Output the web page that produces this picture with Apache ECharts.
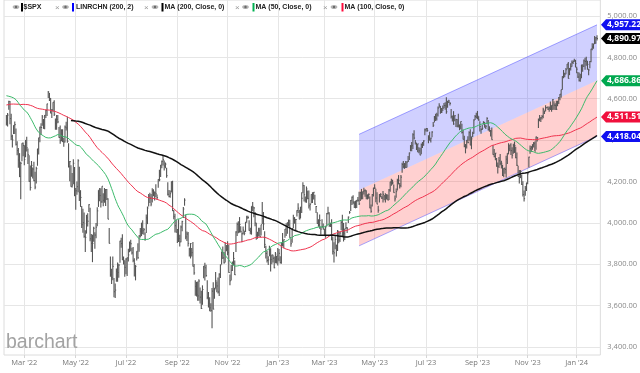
<!DOCTYPE html>
<html><head><meta charset="utf-8">
<script src="https://cdn.jsdelivr.net/npm/echarts@6/dist/echarts.min.js"></script>
<style>html,body{margin:0;padding:0;background:#fff;}#c{width:640px;height:373px;}</style>
</head><body><div id="c"></div>
<script>
// ---- trading calendar ----
const startDate = '2022-02-07';
const endDate = '2024-01-26';
const holidays = ['2022-02-21','2022-04-15','2022-05-30','2022-06-20','2022-07-04','2022-09-05','2022-11-24','2022-12-26',
  '2023-01-02','2023-01-16','2023-02-20','2023-04-07','2023-05-29','2023-06-19','2023-07-04','2023-09-04','2023-11-23','2023-12-25',
  '2024-01-01','2024-01-15'];

// ---- closes before the visible window (needed by the moving averages) ----
const closesBefore = [4369,4375,4360,4327,4259,4323,4359,4368,4412,4422,4402,4401,4420,4395,
4387,4423,4403,4430,4437,4432,4436,4447,4460,4468,4480,4449,4400,4406,4442,4480,4486,4496,4470,4509,4529,4523,
4524,4537,4535,4521,4514,4493,4459,4469,4443,4481,4474,4433,4358,4354,4396,4449,4455,4443,4353,4360,4308,
4357,4301,4346,4364,4400,4391,4361,4351,4364,4438,4471,4486,4520,4537,4549,4545,4567,4575,4551,4597,4605,
4614,4631,4660,4680,4697,4702,4685,4646,4649,4683,4682,4701,4689,4704,4698,4682,4691,4701,4595,4655,4567,
4513,4577,4538,4592,4686,4701,4668,4712,4669,4635,4710,4669,4621,4568,4649,4697,4726,4791,4786,4793,4778,4766,
4797,4794,4701,4696,4677,4671,4713,4726,4659,4663,4577,4533,4483,4398,4410,4357,4350,4327,4432,4516,
4546,4589,4477,4501];

// ---- $SPX daily closes (visible window) ----
const closes = [
4483,4521,4587,4504,4419,4401,4471,4475,4380,4349,4304,4225,4288,4385,4374,
4306,4387,4363,4329,4201,4171,4278,4260,4204,4173,4262,4358,4412,4463,4461,4512,4456,4520,4543,4575,4632,4602,4530,
4546,4583,4525,4481,4500,4488,4413,4397,4447,4392,4391,4463,4459,4394,4272,4296,4175,4183,4288,4132,
4155,4175,4300,4147,4123,3991,4001,3935,3930,4024,4008,4088,3923,3901,3901,3974,3941,3979,4058,4158,4132,
4101,4177,4109,4121,4161,4116,4018,3901,3750,3735,3790,3667,3675,3765,3760,3796,3912,3900,3821,3819,3785,
3825,3831,3845,3903,3899,3855,3819,3802,3790,3863,3831,3937,3960,3999,3962,3967,3921,4024,4072,4130,
4119,4091,4155,4152,4145,4140,4122,4210,4208,4280,4297,4305,4275,4284,4228,4138,4128,4141,4199,4058,4030,3986,3955,
3967,3924,3908,3980,4006,4067,4110,3932,3946,3901,3873,3900,3856,3790,3758,3693,3655,3647,3719,3641,3586,
3678,3791,3783,3745,3640,3612,3589,3577,3670,3583,3677,3720,3695,3666,3752,3797,3859,3831,3807,3901,3872,
3856,3760,3720,3771,3807,3828,3749,3956,3993,3957,3992,3959,3947,3965,3950,4004,4027,4026,3964,3958,4080,
4077,4072,3999,3941,3934,3964,3934,3991,4020,3995,3896,3852,3818,3821,3879,3823,3845,3829,3783,3849,3840,
3825,3853,3808,3895,3893,3919,3970,3983,3999,3991,3929,3899,3973,4020,4017,4016,4060,4071,4018,4077,
4119,4180,4136,4111,4164,4118,4082,4090,4137,4136,4148,4090,4079,3997,3991,4012,3970,3982,3970,
3951,3981,4046,4048,3986,3992,3918,3862,3855,3920,3892,3960,3917,3951,4002,3937,3949,3971,3977,3971,4028,4051,4109,
4124,4100,4091,4105,4110,4109,4092,4146,4138,4151,4155,4155,4130,4133,4138,4072,4056,4136,4169,
4168,4120,4091,4061,4136,4138,4120,4138,4131,4124,4136,4110,4159,4198,4192,4193,4146,4116,4151,4205,4206,4180,
4221,4282,4273,4284,4268,4294,4299,4338,4369,4373,4426,4410,4389,4366,4382,4348,4328,4378,4376,4396,4450,
4456,4447,4412,4399,4410,4439,4472,4510,4505,4522,4555,4566,4535,4536,4554,4567,4566,4537,4582,4589,
4577,4513,4502,4478,4518,4499,4468,4469,4464,4490,4437,4404,4370,4370,4400,4388,4436,4376,4406,4433,4497,4514,4508,
4516,4497,4465,4451,4457,4487,4462,4467,4505,4450,4454,4444,4402,4330,4320,4337,4274,4274,4300,4288,
4288,4229,4263,4258,4308,4336,4358,4377,4349,4327,4373,4373,4315,4278,4224,4217,4248,4186,4137,4117,4167,4194,
4237,4318,4358,4365,4378,4383,4347,4415,4411,4496,4502,4508,4514,4547,4538,4556,4559,4550,4555,4551,4568,
4595,4569,4567,4549,4585,4604,4622,4644,4707,4720,4719,4740,4768,4698,4746,4755,4775,4781,4783,4770,
4743,4705,4689,4697,4764,4757,4783,4780,4784,4766,4739,4780,4840,4850,4865,4869,4894,4890.97];

const lows = [
4471,4466,4547,4477,4401,4364,4429,4429,4374,4327,4267,4221,4114,4298,4322,
4279,4317,4345,4284,4199,4157,4223,4215,4201,4162,4190,4276,4330,4390,4425,4469,4455,4452,4507,4517,4603,4589,4530,
4507,4539,4517,4450,4450,4481,4411,4383,4395,4391,4368,4388,4447,4387,4268,4201,4175,4171,4187,4129,
4063,4136,4148,4106,4077,3975,3952,3928,3859,3948,3983,4052,3911,3859,3810,3909,3875,3926,3984,4077,4104,
4074,4097,4080,4097,4081,4110,4017,3900,3740,3705,3723,3640,3637,3715,3715,3735,3807,3880,3820,3799,3739,
3752,3743,3813,3858,3863,3847,3810,3741,3722,3818,3826,3860,3929,3936,3945,3943,3913,3951,3994,4079,
4096,4080,4098,4129,4108,4124,4112,4170,4201,4222,4264,4277,4253,4264,4218,4132,4124,4121,4147,4057,4017,3954,3954,
3903,3907,3886,3906,3960,4023,4083,3921,3912,3886,3838,3828,3838,3789,3749,3648,3644,3623,3623,3610,3584,
3604,3732,3722,3740,3631,3591,3573,3570,3491,3582,3633,3681,3665,3658,3647,3733,3799,3825,3803,3808,3863,
3843,3759,3699,3722,3767,3795,3748,3859,3937,3950,3953,3954,3906,3945,3940,3956,4000,4019,3962,3945,3943,
4056,4027,3984,3918,3923,3937,3933,3939,3994,3965,3879,3828,3809,3796,3839,3765,3800,3809,3781,3805,3804,
3794,3815,3803,3802,3887,3877,3928,3937,3947,3984,3928,3885,3904,3974,3996,3962,4031,4048,4017,4021,
4048,4143,4103,4098,4097,4114,4069,4060,4095,4096,4113,4088,4048,3996,3981,3971,3943,3976,3968,
3940,3928,3984,4041,3981,3980,3916,3847,3809,3873,3838,3864,3901,3907,3964,3936,3910,3917,3970,3951,3999,4044,4057,
4086,4090,4072,4070,4072,4102,4086,4106,4113,4114,4137,4126,4114,4113,4117,4071,4049,4079,4128,
4164,4100,4090,4049,4098,4124,4115,4099,4109,4099,4113,4109,4110,4150,4180,4185,4145,4103,4122,4156,4186,4166,
4172,4242,4264,4261,4265,4268,4294,4304,4346,4346,4357,4403,4379,4352,4341,4336,4327,4332,4362,4373,4423,
4442,4440,4385,4398,4389,4414,4464,4485,4492,4495,4514,4557,4527,4531,4541,4555,4547,4528,4557,4580,
4567,4505,4490,4474,4491,4464,4462,4461,4448,4453,4432,4403,4365,4336,4360,4385,4397,4375,4356,4414,4431,4497,4506,
4501,4494,4442,4431,4449,4475,4461,4454,4478,4447,4440,4417,4402,4329,4317,4303,4271,4239,4265,4279,
4263,4226,4221,4237,4219,4284,4331,4346,4328,4311,4334,4338,4312,4275,4223,4190,4217,4183,4128,4103,4131,4154,
4187,4268,4334,4343,4354,4364,4346,4353,4393,4459,4491,4487,4500,4506,4526,4540,4554,4546,4537,4545,4537,
4546,4547,4546,4546,4564,4575,4593,4605,4643,4699,4704,4718,4743,4698,4714,4736,4755,4768,4779,4751,
4723,4700,4683,4682,4700,4731,4754,4740,4760,4740,4714,4747,4776,4835,4842,4865,4866,4881];

const highs = [
4521,4531,4590,4589,4527,4426,4472,4490,4456,4394,4362,4337,4295,4385,4389,
4375,4401,4416,4359,4327,4277,4299,4268,4296,4247,4271,4358,4412,4465,4481,4522,4502,4521,4546,4576,4637,4628,4603,
4550,4583,4593,4504,4521,4521,4464,4471,4453,4453,4411,4471,4489,4513,4385,4299,4279,4241,4308,4270,
4169,4200,4307,4271,4158,4082,4068,4050,3964,4039,4047,4090,4073,3946,3943,3981,3955,3999,4075,4158,4169,
4167,4177,4143,4169,4164,4164,4119,3975,3838,3778,3838,3733,3707,3779,3809,3802,3913,3928,3945,3837,3818,
3829,3832,3875,3910,3919,3880,3883,3829,3796,3863,3902,3940,3975,4000,4013,3975,3954,4040,4079,4140,
4145,4140,4167,4162,4151,4187,4137,4211,4257,4280,4301,4325,4302,4292,4266,4196,4159,4156,4200,4203,4062,4044,4015,
3970,4018,3942,3987,4010,4077,4119,4039,3958,3956,3880,3902,3879,3907,3801,3723,3715,3717,3727,3687,3672,
3698,3791,3807,3797,3723,3666,3641,3611,3685,3713,3686,3762,3717,3736,3757,3799,3862,3886,3859,3905,3893,
3911,3894,3751,3796,3813,3859,3818,3959,4002,4008,4028,3984,3955,3982,3962,4004,4034,4035,4013,3976,4080,
4101,4077,4052,4001,3957,3977,3977,3991,4101,4053,3959,3889,3864,3839,3889,3877,3846,3846,3837,3859,3840,
3878,3874,3839,3906,3951,3920,3970,3998,4003,4016,4015,3922,3973,4039,4028,4019,4061,4095,4063,4077,
4148,4196,4183,4128,4176,4157,4157,4095,4138,4148,4149,4136,4082,4051,4018,4040,3983,4018,3997,
3972,3986,4048,4078,4051,4001,4017,3934,3906,3938,3894,3965,3959,3956,4010,4039,4000,3972,4003,3980,4031,4057,4110,
4128,4133,4104,4107,4110,4125,4151,4150,4164,4152,4170,4163,4158,4138,4142,4127,4089,4139,4170,
4187,4165,4148,4083,4139,4143,4131,4154,4133,4143,4138,4135,4164,4199,4213,4209,4186,4132,4166,4213,4231,4193,
4231,4290,4299,4289,4299,4298,4323,4340,4376,4391,4433,4448,4401,4387,4382,4366,4363,4384,4391,4399,4456,
4456,4458,4423,4441,4412,4443,4488,4517,4527,4532,4562,4578,4565,4555,4567,4580,4583,4607,4590,4595,
4584,4550,4519,4540,4520,4503,4502,4527,4476,4490,4479,4450,4421,4381,4401,4419,4443,4452,4418,4440,4501,4522,4532,
4541,4515,4491,4457,4474,4491,4487,4474,4511,4497,4467,4449,4461,4375,4357,4338,4314,4292,4318,4333,
4300,4281,4264,4268,4324,4337,4385,4378,4385,4366,4383,4393,4368,4340,4276,4255,4255,4232,4201,4157,4178,4194,
4245,4320,4374,4372,4380,4391,4393,4418,4415,4505,4521,4512,4521,4557,4543,4568,4560,4562,4562,4587,4569,
4599,4588,4578,4590,4590,4609,4623,4644,4709,4739,4726,4749,4768,4778,4749,4772,4785,4785,4793,4788,
4755,4729,4727,4721,4764,4765,4790,4798,4803,4782,4745,4783,4842,4868,4866,4903,4898,4907];

// ---- linear regression channel (200, 2): end points ----
const channelLength = 200;
const channelUpper = [4428, 4957.22];
const channelLower = [3889, 4418.04];

// ---- last-value tags on the price axis ----
const tagValues = [4957.22, 4890.97, 4686.86, 4511.51, 4418.04];
const yTicks = [3400, 3600, 3800, 4000, 4200, 4400, 4600, 4800, 5000];
const monthNames = ['Jan','Feb','Mar','Apr','May','Jun','Jul','Aug','Sep','Oct','Nov','Dec'];

// build trading dates
const dates = [];
(function(){
  let t = Date.parse(startDate + 'T00:00:00Z');
  const e = Date.parse(endDate + 'T00:00:00Z');
  while (t <= e) {
    const d = new Date(t);
    const dow = d.getUTCDay();
    const s = d.toISOString().slice(0, 10);
    if (dow !== 0 && dow !== 6 && holidays.indexOf(s) < 0) dates.push(s);
    t += 86400000;
  }
})();
const N = closes.length;
const monthStarts = [];
for (let i = 1; i < dates.length && i < N; i++) {
  const m = +dates[i].slice(5, 7) - 1, pm = +dates[i - 1].slice(5, 7) - 1;
  if (m !== pm && m % 2 === 0) monthStarts.push(i);
}

const allCloses = closesBefore.concat(closes);
function movingAverage(n) {
  const out = [];
  for (let i = 0; i < N; i++) {
    const j = i + closesBefore.length;
    if (j < n - 1) continue;
    let s = 0;
    for (let k = j - n + 1; k <= j; k++) s += allCloses[k];
    out.push([i, s / n]);
  }
  return out;
}
const bars = [];
for (let i = 0; i < N; i++) bars.push([i, lows[i], highs[i], closes[i]]);

const fmt = v => Number(v).toLocaleString('en-US', {minimumFractionDigits: 2, maximumFractionDigits: 2});

const chEnd = N - 1, chStart = N - channelLength;
const channelData = [[chStart, chEnd, channelLower[0], channelUpper[0], channelLower[1], channelUpper[1]]];

const tagColors = ['#1010f0', '#000000', '#00a84f', '#f0103c', '#1010f0'];
const tagPath = 'path://M0,5L5,0L40,0L40,10L5,10Z';

// legend graphics
const legendItems = [
  {eye: 16, bar: 21, text: 23.5, color: '#000', label: '$SPX', x: 55},
  {eye: 65.5, bar: 72, text: 76, color: '#0000ff', label: 'LINRCHN (200, 2)', x: 144},
  {eye: 155, bar: 161.5, text: 164.5, color: '#000', label: 'MA (200, Close, 0)', x: 235},
  {eye: 245.5, bar: 252.5, text: 255.5, color: '#00b050', label: 'MA (50, Close, 0)', x: 323},
  {eye: 334, bar: 341.5, text: 344.5, color: '#ff0a3c', label: 'MA (100, Close, 0)', x: null}
];
const graphics = [];
legendItems.forEach(it => {
  graphics.push({type: 'ellipse', shape: {cx: it.eye, cy: 7, rx: 3.4, ry: 2.1}, style: {fill: '#b5b5b5'}, z: 100});
  graphics.push({type: 'circle', shape: {cx: it.eye, cy: 7, r: 1.2}, style: {fill: '#6a6a6a'}, z: 101});
  graphics.push({type: 'rect', shape: {x: it.bar, y: 3, width: 2, height: 8.5}, style: {fill: it.color}, z: 100});
  graphics.push({type: 'text', x: it.text, y: 7.5, style: {text: it.label, fill: '#222', font: 'bold 7px "Liberation Sans", Arial, sans-serif', verticalAlign: 'middle'}, z: 100});
  if (it.x !== null) graphics.push({type: 'text', x: it.x, y: 7.5, style: {text: '×', fill: '#999', font: '8px "Liberation Sans", Arial, sans-serif', verticalAlign: 'middle'}, z: 100});
});
graphics.push({type: 'text', left: 6, top: 333, style: {text: 'barchart', fill: '#a3a3a3', font: '19.5px "Liberation Sans", Arial, sans-serif'}, z: 100});

const chart = echarts.init(document.getElementById('c'), null, {renderer: 'canvas'});
chart.setOption({
  animation: false,
  backgroundColor: '#fff',
  graphic: graphics,
  grid: {left: 4, right: 34, top: 0, bottom: 18, show: true, borderColor: '#dcdcdc', borderWidth: 1},
  xAxis: {
    type: 'value', min: -2, max: 496.8,
    axisLine: {show: false},
    axisTick: {show: true, customValues: monthStarts, length: 3, lineStyle: {color: '#d5d5d5'}},
    axisLabel: {customValues: monthStarts, color: '#777', fontSize: 7.5, fontFamily: 'Open Sans', margin: 4,
      formatter: v => { const d = dates[Math.round(v)]; return d ? monthNames[+d.slice(5, 7) - 1] + " '" + d.slice(2, 4) : ''; }},
    splitLine: {show: true, lineStyle: {color: '#e6e6e6', width: 1}}
  },
  yAxis: {
    type: 'value', position: 'right', min: 3361.3, max: 5077.3,
    axisLine: {show: false},
    axisTick: {show: false, customValues: yTicks},
    axisLabel: {customValues: yTicks, color: '#888', fontSize: 7.5, fontFamily: 'Open Sans', margin: 7, formatter: v => fmt(v)},
    splitLine: {show: true, lineStyle: {color: '#e6e6e6', width: 1}}
  },
  series: [
    {
      type: 'custom', name: 'LINRCHN', z: 1, silent: true,
      encode: {x: [0, 1], y: [2, 3, 4, 5]},
      data: channelData,
      renderItem: function (params, api) {
        const x0 = api.value(0), x1 = api.value(1);
        const lo0 = api.value(2), up0 = api.value(3), lo1 = api.value(4), up1 = api.value(5);
        const md0 = (lo0 + up0) / 2, md1 = (lo1 + up1) / 2;
        const c = (x, y) => api.coord([x, y]);
        return {type: 'group', children: [
          {type: 'polygon', shape: {points: [c(x0, md0), c(x0, up0), c(x1, up1), c(x1, md1)]}, style: {fill: 'rgba(60,60,255,0.24)'}},
          {type: 'polygon', shape: {points: [c(x0, lo0), c(x0, md0), c(x1, md1), c(x1, lo1)]}, style: {fill: 'rgba(255,60,60,0.24)'}},
          {type: 'polyline', shape: {points: [c(x0, up0), c(x1, up1)]}, style: {stroke: 'rgba(80,80,255,0.5)', lineWidth: 1, fill: null}},
          {type: 'polyline', shape: {points: [c(x0, lo0), c(x1, lo1)]}, style: {stroke: 'rgba(80,80,255,0.5)', lineWidth: 1, fill: null}}
        ]};
      }
    },
    {
      type: 'custom', name: '$SPX', z: 2, silent: true,
      encode: {x: 0, y: [1, 2, 3]},
      data: bars,
      renderItem: function (params, api) {
        const x = api.value(0);
        const ph = api.coord([x, api.value(2)]), pl = api.coord([x, api.value(1)]), pc = api.coord([x, api.value(3)]);
        return {type: 'group', children: [
          {type: 'line', shape: {x1: ph[0], y1: ph[1], x2: pl[0], y2: pl[1]}, style: {stroke: '#555', lineWidth: 1.1}},
          {type: 'line', shape: {x1: pc[0], y1: pc[1], x2: pc[0] + 1, y2: pc[1]}, style: {stroke: '#555', lineWidth: 1}}
        ]};
      }
    },
    {type: 'line', name: 'MA100', z: 3, data: movingAverage(100), showSymbol: false, silent: true,
      lineStyle: {color: '#f0344f', width: 1}},
    {type: 'line', name: 'MA50', z: 3, data: movingAverage(50), showSymbol: false, silent: true,
      lineStyle: {color: '#3dbb6c', width: 1}},
    {type: 'line', name: 'MA200', z: 4, data: movingAverage(200), showSymbol: false, silent: true,
      lineStyle: {color: '#111', width: 1.5},
      markPoint: {
        silent: true, animation: false,
        symbol: tagPath, symbolSize: [40, 11], symbolOffset: [24, 0], symbolKeepAspect: false,
        label: {show: true, position: 'inside', offset: [3, 0], color: '#fff', fontSize: 8.5, fontWeight: 'bold', fontFamily: 'Open Sans',
          formatter: p => fmt(p.value)},
        data: tagValues.map((v, i) => ({coord: [N - 1, v], value: v, itemStyle: {color: tagColors[i]}}))
      }}
  ]
});
</script>
</body></html>
